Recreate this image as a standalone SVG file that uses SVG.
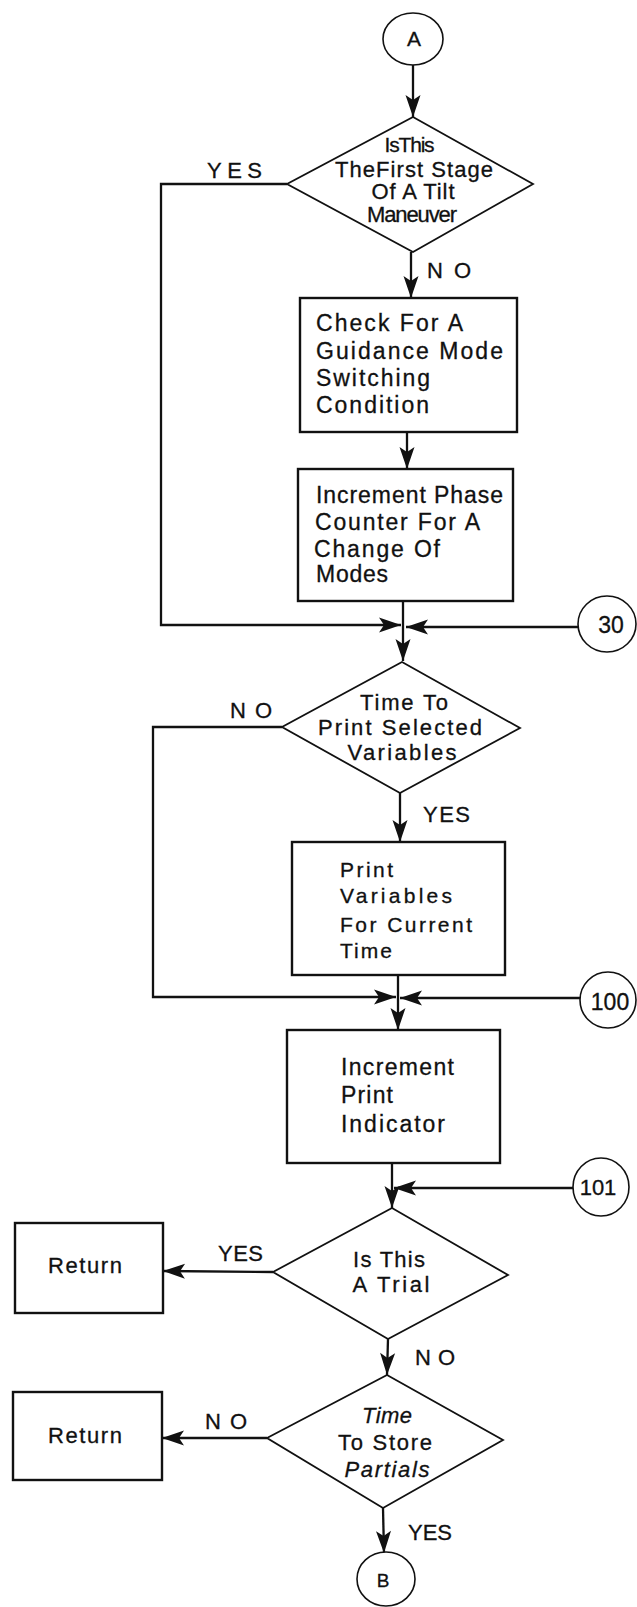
<svg xmlns="http://www.w3.org/2000/svg" width="637" height="1607" viewBox="0 0 637 1607">
  <style>
    .bg { fill: #ffffff; }
    .box { fill: #ffffff; stroke: #111111; stroke-width: 2.4; }
    .dia { fill: #ffffff; stroke: #111111; stroke-width: 1.8; stroke-linejoin: miter; }
    .circ { fill: #ffffff; stroke: #111111; stroke-width: 1.6; }
    .wire { fill: none; stroke: #111111; stroke-width: 2.3; }
    .arrow { marker-end: url(#head); }
    text { font-family: "Liberation Sans", Arial, sans-serif; fill: #111111; stroke: #111111; stroke-width: 0.3; }
    .bt { font-size: 23px; }
    .dt { font-size: 22px; text-anchor: middle; }
    .lbl { font-size: 22px; }
    .ct { font-size: 23px; text-anchor: middle; }
    .it { font-style: italic; }
  </style>
  <defs>
    <marker id="head" viewBox="-24 -10 26 20" refX="0" refY="0" markerWidth="26" markerHeight="20" markerUnits="userSpaceOnUse" orient="auto">
      <path d="M0,0 L-22,-7.5 L-17,0 L-22,7.5 Z" fill="#111111"/>
    </marker>
  </defs>

  <rect class="bg" x="0" y="0" width="637" height="1607"/>

  <!-- connectors -->
  <g id="connectors">
    <!-- A to first decision -->
    <line class="wire arrow" x1="413" y1="65" x2="413" y2="117"/>
    <!-- YES branch around the mode checks -->
    <polyline class="wire arrow" points="287,184 161,184 161,625 401,625"/>
    <!-- NO down to mode check -->
    <line class="wire arrow" x1="411" y1="252" x2="411" y2="298"/>
    <line class="wire arrow" x1="407" y1="432" x2="407" y2="469"/>
    <!-- merge point 30 -->
    <line class="wire arrow" x1="403" y1="601" x2="403" y2="661"/>
    <line class="wire arrow" x1="579" y1="627" x2="406" y2="627"/>
    <!-- print decision -->
    <polyline class="wire arrow" points="282,727 153,727 153,997 396,997"/>
    <line class="wire arrow" x1="400" y1="793" x2="400" y2="842"/>
    <!-- merge point 100 -->
    <line class="wire arrow" x1="398" y1="975" x2="398" y2="1030"/>
    <line class="wire arrow" x1="580" y1="998" x2="400" y2="998"/>
    <!-- merge point 101 -->
    <line class="wire arrow" x1="392" y1="1163" x2="392" y2="1208"/>
    <line class="wire arrow" x1="573" y1="1188" x2="394" y2="1188"/>
    <!-- trial decision -->
    <line class="wire arrow" x1="273" y1="1272" x2="163" y2="1271"/>
    <line class="wire arrow" x1="388" y1="1339" x2="387" y2="1375"/>
    <!-- store partials decision -->
    <line class="wire arrow" x1="267" y1="1438" x2="162" y2="1438"/>
    <line class="wire arrow" x1="383" y1="1508" x2="384" y2="1553"/>

    <!-- branch labels -->
    <text class="lbl" x="207" y="178" textLength="55" lengthAdjust="spacing">YES</text>
    <text class="lbl" x="427" y="278" textLength="44" lengthAdjust="spacing">NO</text>
    <text class="lbl" x="230" y="718" textLength="42" lengthAdjust="spacing">NO</text>
    <text class="lbl" x="423" y="822" textLength="47" lengthAdjust="spacing">YES</text>
    <text class="lbl" x="218" y="1261" textLength="45" lengthAdjust="spacing">YES</text>
    <text class="lbl" x="415" y="1365" textLength="40" lengthAdjust="spacing">NO</text>
    <text class="lbl" x="205" y="1429" textLength="42" lengthAdjust="spacing">NO</text>
    <text class="lbl" x="408" y="1540" textLength="44" lengthAdjust="spacing">YES</text>
  </g>

  <!-- entry connector A -->
  <g id="conn-A">
    <ellipse class="circ" cx="413" cy="39" rx="30" ry="26"/>
    <text class="ct" x="414" y="46" style="font-size:21px">A</text>
  </g>

  <!-- first decision -->
  <g id="dec-first-stage">
    <polygon class="dia" points="413,117 533,184 413,252 287,184"/>
    <text class="dt" x="409" y="152" style="font-size:21px; letter-spacing:-1.2px">IsThis</text>
    <text class="dt" x="414" y="177" textLength="158" lengthAdjust="spacing">TheFirst Stage</text>
    <text class="dt" x="413" y="199" textLength="83" lengthAdjust="spacing">Of A Tilt</text>
    <text class="dt" x="412" y="222" textLength="90" lengthAdjust="spacing">Maneuver</text>
  </g>

  <!-- mode switch check -->
  <g id="box-check-mode">
    <rect class="box" x="300" y="298" width="217" height="134"/>
    <text class="bt" x="316" y="331" textLength="147" lengthAdjust="spacing">Check For A</text>
    <text class="bt" x="316" y="359" textLength="187" lengthAdjust="spacing">Guidance Mode</text>
    <text class="bt" x="316" y="386" textLength="114" lengthAdjust="spacing">Switching</text>
    <text class="bt" x="316" y="413" textLength="113" lengthAdjust="spacing">Condition</text>
  </g>

  <!-- phase counter -->
  <g id="box-phase-counter">
    <rect class="box" x="298" y="469" width="215" height="132"/>
    <text class="bt" x="316" y="503" textLength="187" lengthAdjust="spacing">Increment Phase</text>
    <text class="bt" x="315" y="530" textLength="165" lengthAdjust="spacing">Counter For A</text>
    <text class="bt" x="314" y="557" textLength="126" lengthAdjust="spacing">Change Of</text>
    <text class="bt" x="316" y="582" textLength="72" lengthAdjust="spacing">Modes</text>
  </g>

  <!-- connector 30 -->
  <g id="conn-30">
    <ellipse class="circ" cx="607" cy="624" rx="29" ry="28"/>
    <text class="ct" x="611" y="633">30</text>
  </g>

  <!-- print decision -->
  <g id="dec-print-time">
    <polygon class="dia" points="402,662 520,728 400,793 282,727"/>
    <text class="dt" x="404" y="710" textLength="88" lengthAdjust="spacing">Time To</text>
    <text class="dt" x="400" y="735" textLength="164" lengthAdjust="spacing">Print Selected</text>
    <text class="dt" x="402" y="760" textLength="109" lengthAdjust="spacing">Variables</text>
  </g>

  <!-- print variables -->
  <g id="box-print-vars">
    <rect class="box" x="292" y="842" width="213" height="133"/>
    <text class="bt" x="340" y="877" textLength="53" lengthAdjust="spacing" style="font-size:21px">Print</text>
    <text class="bt" x="340" y="903" textLength="112" lengthAdjust="spacing" style="font-size:21px">Variables</text>
    <text class="bt" x="340" y="932" textLength="132" lengthAdjust="spacing" style="font-size:21px">For Current</text>
    <text class="bt" x="340" y="958" textLength="52" lengthAdjust="spacing" style="font-size:21px">Time</text>
  </g>

  <!-- connector 100 -->
  <g id="conn-100">
    <ellipse class="circ" cx="608" cy="1000" rx="28" ry="28"/>
    <text class="ct" x="610" y="1010">100</text>
  </g>

  <!-- print indicator -->
  <g id="box-print-indicator">
    <rect class="box" x="287" y="1030" width="213" height="133"/>
    <text class="bt" x="341" y="1075" textLength="113" lengthAdjust="spacing">Increment</text>
    <text class="bt" x="341" y="1103" textLength="52" lengthAdjust="spacing">Print</text>
    <text class="bt" x="341" y="1132" textLength="104" lengthAdjust="spacing">Indicator</text>
  </g>

  <!-- connector 101 -->
  <g id="conn-101">
    <ellipse class="circ" cx="601" cy="1187" rx="28" ry="29"/>
    <text class="ct" x="598" y="1195" style="font-size:22px">101</text>
  </g>

  <!-- trial decision -->
  <g id="dec-trial">
    <polygon class="dia" points="392,1208 508,1275 388,1339 273,1272"/>
    <text class="dt" x="389" y="1267" textLength="72" lengthAdjust="spacing">Is This</text>
    <text class="dt" x="391" y="1292" textLength="77" lengthAdjust="spacing">A Trial</text>
  </g>

  <!-- return after trial -->
  <g id="box-return-1">
    <rect class="box" x="15" y="1223" width="148" height="90"/>
    <text class="bt" x="48" y="1273" textLength="74" lengthAdjust="spacing" style="font-size:22px">Return</text>
  </g>

  <!-- store partials decision -->
  <g id="dec-store-partials">
    <polygon class="dia" points="387,1375 503,1440 383,1508 267,1438"/>
    <text class="dt it" x="387" y="1423" textLength="50" lengthAdjust="spacing">Time</text>
    <text class="dt" x="385" y="1450" textLength="94" lengthAdjust="spacing">To Store</text>
    <text class="dt it" x="387" y="1477" textLength="85" lengthAdjust="spacing">Partials</text>
  </g>

  <!-- return when not storing -->
  <g id="box-return-2">
    <rect class="box" x="13" y="1392" width="149" height="88"/>
    <text class="bt" x="48" y="1443" textLength="74" lengthAdjust="spacing" style="font-size:22px">Return</text>
  </g>

  <!-- exit connector B -->
  <g id="conn-B">
    <ellipse class="circ" cx="386" cy="1579" rx="29" ry="27"/>
    <text class="ct" x="383" y="1587" style="font-size:19px">B</text>
  </g>
</svg>
